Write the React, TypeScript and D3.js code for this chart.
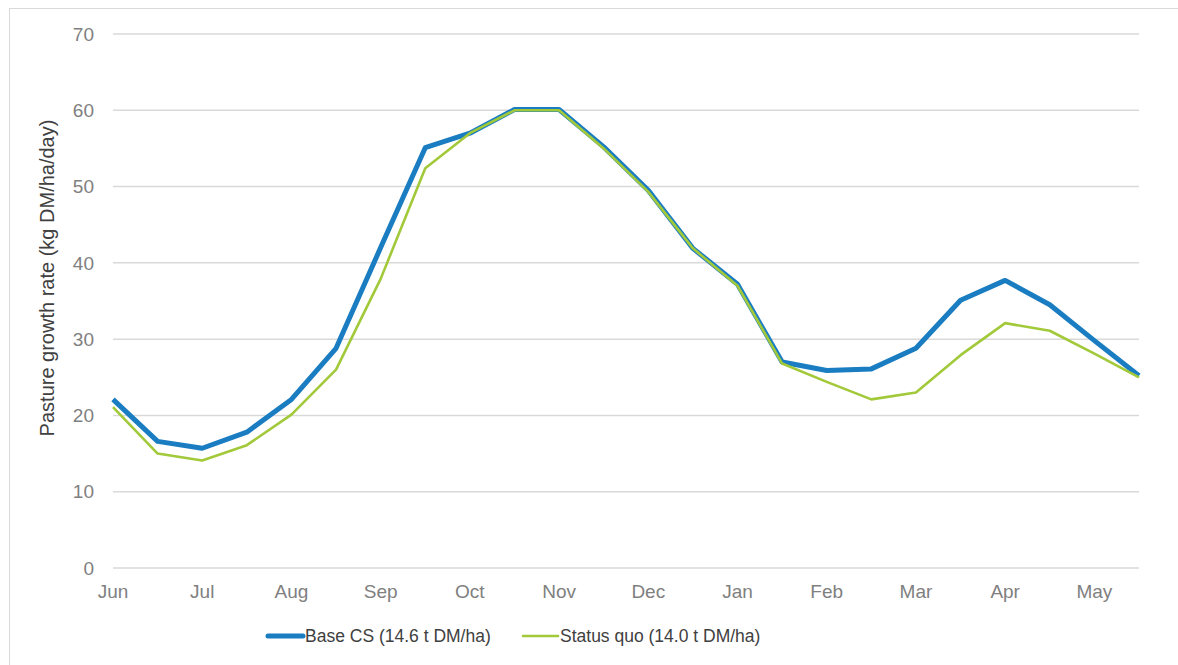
import React, { useEffect, useRef } from 'react';
import * as d3 from 'd3';

// half-month steps, Jun -> end of May
const months = ['Jun', 'Jul', 'Aug', 'Sep', 'Oct', 'Nov', 'Dec', 'Jan', 'Feb', 'Mar', 'Apr', 'May'];
const baseCS = [22.1, 16.6, 15.7, 17.8, 22.1, 28.8, 42, 55.1, 57, 60.1, 60.1, 55.2, 49.5, 41.9, 37.2, 27, 25.9, 26.1, 28.8, 35.1, 37.7, 34.5, 29.8, 25.2];
const statusQuo = [21.1, 15, 14.1, 16.1, 20.1, 26, 37.9, 52.4, 57, 60, 60, 55, 49.3, 41.9, 37, 26.8, 24.4, 22.1, 23, 27.9, 32.1, 31.1, 28.1, 25];
const yTicks = [0, 10, 20, 30, 40, 50, 60, 70];

const W = 1178;
const H = 665;
const margin = { top: 34, right: 39, bottom: 97, left: 113 };

export default function App() {
  const ref = useRef<SVGSVGElement>(null);

  useEffect(() => {
    const svg = d3.select(ref.current);
    svg.selectAll('*').remove();

    const x = d3.scaleLinear()
      .domain([0, baseCS.length - 1])
      .range([margin.left, W - margin.right]);
    const y = d3.scaleLinear()
      .domain([0, 70])
      .range([H - margin.bottom, margin.top]);

    // frame
    svg.append('rect')
      .attr('x', 9.5).attr('y', 8.5)
      .attr('width', W + 20).attr('height', H + 20)
      .attr('fill', 'none').attr('stroke', '#d9d9d9');

    // grid
    svg.append('g')
      .selectAll('line')
      .data(yTicks)
      .join('line')
      .attr('x1', x(0)).attr('x2', x(baseCS.length - 1))
      .attr('y1', d => y(d)).attr('y2', d => y(d))
      .attr('stroke', '#d9d9d9').attr('stroke-width', 1.5);

    const font = "'Liberation Sans', Arial, sans-serif";

    svg.append('g')
      .selectAll('text')
      .data(yTicks)
      .join('text')
      .attr('x', 94).attr('y', d => y(d))
      .attr('dy', '0.35em')
      .attr('text-anchor', 'end')
      .attr('font-family', font).attr('font-size', 19)
      .attr('fill', '#808080')
      .text(d => d);

    svg.append('g')
      .selectAll('text')
      .data(months)
      .join('text')
      .attr('x', (d, i) => x(i * 2)).attr('y', 591)
      .attr('dy', '0.35em')
      .attr('text-anchor', 'middle')
      .attr('font-family', font).attr('font-size', 19)
      .attr('fill', '#808080')
      .text(d => d);

    svg.append('text')
      .attr('transform', `translate(54,278) rotate(-90)`)
      .attr('text-anchor', 'middle')
      .attr('font-family', font).attr('font-size', 20)
      .attr('fill', '#404040')
      .text('Pasture growth rate (kg DM/ha/day)');

    const line = d3.line<number>()
      .x((d, i) => x(i))
      .y(d => y(d));

    svg.append('path')
      .datum(baseCS)
      .attr('fill', 'none')
      .attr('stroke', '#1a7dc1')
      .attr('stroke-width', 5)
      .attr('stroke-linejoin', 'round')
      .attr('d', line);

    svg.append('path')
      .datum(statusQuo)
      .attr('fill', 'none')
      .attr('stroke', '#a2c93a')
      .attr('stroke-width', 2.6)
      .attr('stroke-linejoin', 'round')
      .attr('d', line);

    // legend
    const legend = [
      { label: 'Base CS (14.6 t DM/ha)', color: '#1a7dc1', w: 5, x0: 268 },
      { label: 'Status quo (14.0 t DM/ha)', color: '#a2c93a', w: 2.6, x0: 523 },
    ];
    const lg = svg.append('g').selectAll('g').data(legend).join('g');
    lg.append('line')
      .attr('x1', d => d.x0).attr('x2', d => d.x0 + 35)
      .attr('y1', 636).attr('y2', 636)
      .attr('stroke', d => d.color).attr('stroke-width', d => d.w)
      .attr('stroke-linecap', 'round');
    lg.append('text')
      .attr('x', d => d.x0 + 37).attr('y', 636)
      .attr('dy', '0.35em')
      .attr('font-family', font).attr('font-size', 17.5)
      .attr('fill', '#404040')
      .text(d => d.label);
  }, []);

  return (
    <svg ref={ref} width={W} height={H}
      style={{ position: 'absolute', left: 0, top: 0, background: '#fff' }} />
  );
}
